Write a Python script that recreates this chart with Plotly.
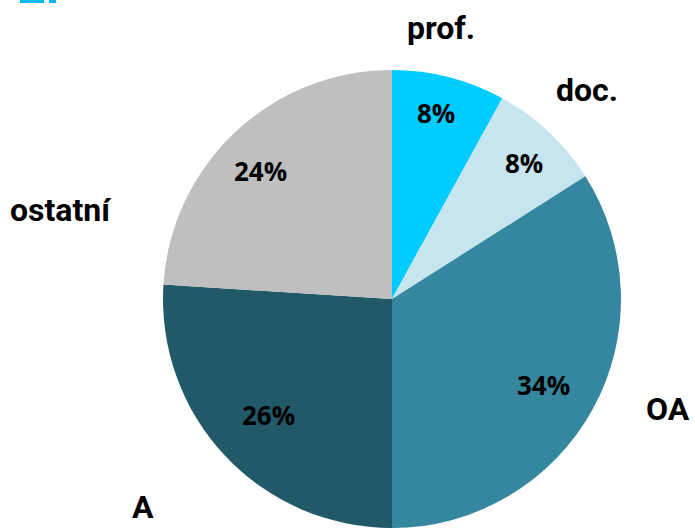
import plotly.graph_objects as go

# Slice data
categories = ['prof.', 'doc.', 'OA', 'A', 'ostatní']
shares = [8, 8, 34, 26, 24]
colors = ['#00CCFF', '#C6E5EE', '#34879E', '#215968', '#BFBFBF']

# label anchors in pixels (x from left, y from top)
name_pos = [(441, 28), (587, 90), (668, 409), (143, 528), (61, 210)]
pct_pos = [(436, 113), (524, 163), (543, 385), (268, 415), (260, 171)]

W, H = 695, 528

fig = go.Figure(go.Pie(
    labels=categories,
    values=shares,
    sort=False,
    direction='clockwise',
    rotation=0,
    marker=dict(colors=colors, line=dict(width=0)),
    textinfo='none',
    domain=dict(x=[163 / W, 621 / W], y=[1 - 528 / H, 1 - 70 / H]),
    hoverinfo='label+percent',
))

for name, (px_, py_) in zip(categories, name_pos):
    # the bottom label sits on the lower edge so its box stays inside
    fig.add_annotation(
        x=px_ / W, y=1 - py_ / H, xref='paper', yref='paper',
        xanchor='center', yanchor='bottom' if py_ >= H else 'middle',
        text='<b>%s</b>' % name, showarrow=False,
        font=dict(family='Roboto', size=32, color='#000000'),
    )

for s, (px_, py_) in zip(shares, pct_pos):
    fig.add_annotation(
        x=px_ / W, y=1 - py_ / H, xref='paper', yref='paper',
        xanchor='center', yanchor='middle',
        text='<b>%d%%</b>' % s, showarrow=False,
        font=dict(family='Open Sans', size=26, color='#000000'),
    )

# cropped title remnant at top-left
for x0, x1 in [(20, 44), (49, 56)]:
    fig.add_shape(type='rect', xref='paper', yref='paper',
                  x0=x0 / W, x1=x1 / W, y0=1 - 3 / H, y1=1,
                  fillcolor='#00B8F0', line=dict(width=0))

fig.update_layout(
    width=W,
    height=H,
    margin=dict(l=0, r=0, t=0, b=0),
    paper_bgcolor='white',
    plot_bgcolor='white',
    showlegend=False,
)

fig.write_html("out.html", config={'displayModeBar': False},
               post_script="document.body.style.margin='0';")
